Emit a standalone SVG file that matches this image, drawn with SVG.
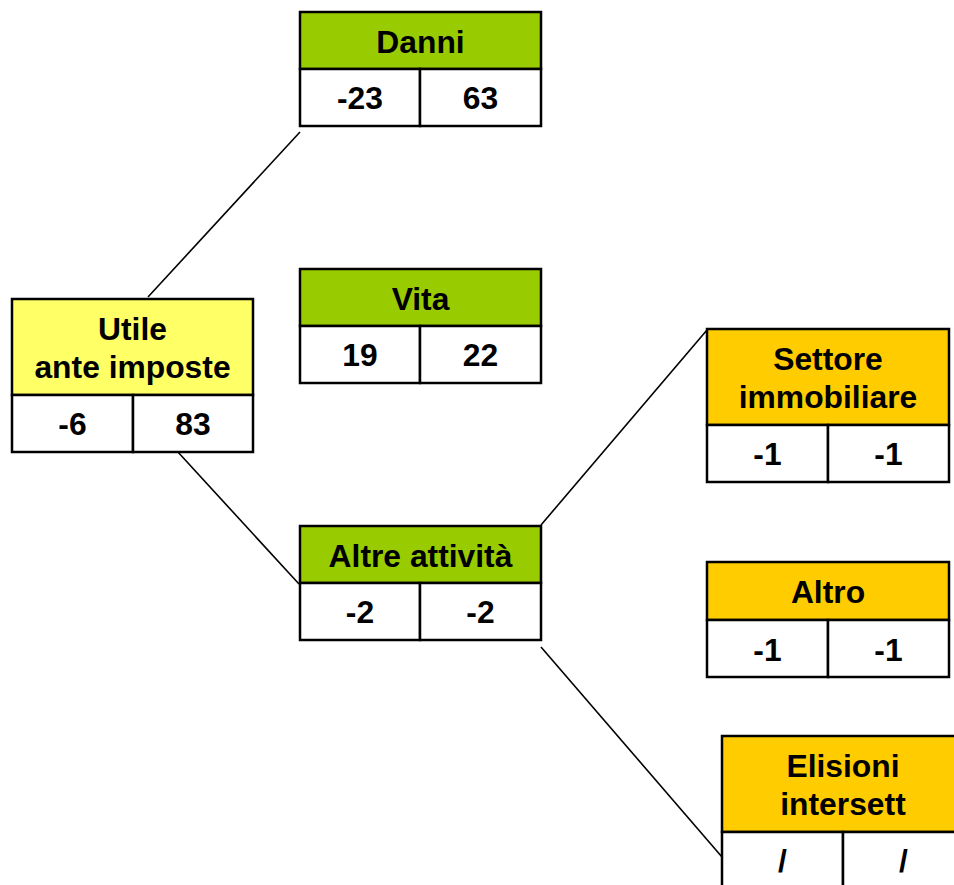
<svg xmlns="http://www.w3.org/2000/svg" width="954" height="885" viewBox="0 0 954 885">
<style>
.box{stroke:#000;stroke-width:2.5;}
.cell{fill:#fff;stroke:#000;stroke-width:2.5;}
.y{fill:#FFFF66;}
.g{fill:#99CC00;}
.o{fill:#FFCC00;}
text{font-family:"Liberation Sans",Arial,sans-serif;font-weight:bold;font-size:31.8px;text-anchor:middle;fill:#000;}
.conn line{stroke:#000;stroke-width:1.6;}
</style>
<rect width="954" height="885" fill="#fff"/>
<g class="conn" id="connectors">
<line x1="148" y1="297" x2="300" y2="132"/>
<line x1="177" y1="451" x2="299" y2="584"/>
<line x1="541" y1="525" x2="707" y2="330"/>
<line x1="541" y1="647" x2="722" y2="857"/>
</g>
<g id="utile">
<rect class="box y" x="12" y="299" width="241" height="96"/>
<rect class="cell" x="12" y="395" width="121" height="57"/>
<rect class="cell" x="133" y="395" width="120" height="57"/>
<text x="132.5" y="340">Utile</text>
<text x="132.5" y="378">ante imposte</text>
<text x="72.5" y="435">-6</text>
<text x="193" y="435">83</text>
</g>
<g id="danni">
<rect class="box g" x="300" y="12" width="241" height="57"/>
<rect class="cell" x="300" y="69" width="120" height="57"/>
<rect class="cell" x="420" y="69" width="121" height="57"/>
<text x="420.5" y="53">Danni</text>
<text x="360" y="109">-23</text>
<text x="480.5" y="109">63</text>
</g>
<g id="vita">
<rect class="box g" x="300" y="269" width="241" height="57"/>
<rect class="cell" x="300" y="326" width="120" height="57"/>
<rect class="cell" x="420" y="326" width="121" height="57"/>
<text x="420.5" y="310">Vita</text>
<text x="360" y="366">19</text>
<text x="480.5" y="366">22</text>
</g>
<g id="altre">
<rect class="box g" x="300" y="526" width="241" height="57"/>
<rect class="cell" x="300" y="583" width="120" height="57"/>
<rect class="cell" x="420" y="583" width="121" height="57"/>
<text x="420.5" y="567">Altre attività</text>
<text x="360" y="623">-2</text>
<text x="480.5" y="623">-2</text>
</g>
<g id="settore">
<rect class="box o" x="707" y="329" width="242" height="96"/>
<rect class="cell" x="707" y="425" width="121" height="57"/>
<rect class="cell" x="828" y="425" width="121" height="57"/>
<text x="828" y="370">Settore</text>
<text x="828" y="408">immobiliare</text>
<text x="767.5" y="465">-1</text>
<text x="888.5" y="465">-1</text>
</g>
<g id="altro">
<rect class="box o" x="707" y="562" width="242" height="58"/>
<rect class="cell" x="707" y="620" width="121" height="57"/>
<rect class="cell" x="828" y="620" width="121" height="57"/>
<text x="828" y="603">Altro</text>
<text x="767.5" y="661">-1</text>
<text x="888.5" y="661">-1</text>
</g>
<g id="elisioni">
<rect class="box o" x="722" y="736" width="242" height="96"/>
<rect class="cell" x="722" y="832" width="121" height="60"/>
<rect class="cell" x="843" y="832" width="121" height="60"/>
<text x="843" y="777">Elisioni</text>
<text x="843" y="815">intersett</text>
<text x="782.5" y="872">/</text>
<text x="903.5" y="872">/</text>
</g>
</svg>
